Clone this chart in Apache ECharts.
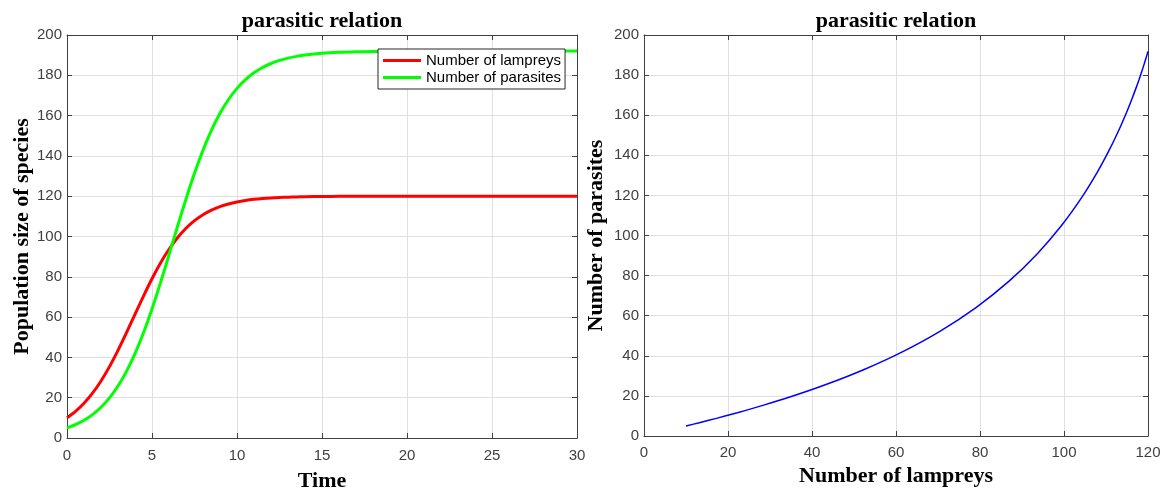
<!DOCTYPE html>
<html>
<head>
<meta charset="utf-8">
<title>parasitic relation</title>
<script src="https://cdn.jsdelivr.net/npm/echarts@6/dist/echarts.min.js"></script>
<style>
  html, body { margin: 0; padding: 0; background: #ffffff; }
  #chart { width: 1163px; height: 488px; }
</style>
</head>
<body>
<div id="chart"></div>
<script>
// Simulated time points
const time = [
  0, 0.5, 1, 1.5, 2, 2.5, 3, 3.5, 4, 4.5, 5, 5.5, 6, 6.5, 7, 7.5, 8, 8.5, 9, 9.5,
  10, 10.5, 11, 11.5, 12, 12.5, 13, 13.5, 14, 15, 16, 17, 18, 19, 20, 22, 25, 30
];

// Number of lampreys at each time point
const lampreys = [
  10.0, 13.18, 17.22, 22.23, 28.30, 35.43, 43.49, 52.27, 61.39, 70.45, 79.05, 86.85, 93.66, 99.41,
  104.11, 107.87, 110.82, 113.10, 114.84, 116.15, 117.14, 117.88, 118.43, 118.84, 119.14, 119.37,
  119.53, 119.66, 119.75, 119.86, 119.93, 119.96, 119.98, 119.99, 119.99, 120, 120, 120
];

// Number of parasites at each time point
const parasites = [
  5.00, 6.64, 8.80, 11.62, 15.26, 19.91, 25.78, 33.05, 41.85, 52.22, 64.06, 77.11, 90.95, 104.97,
  118.62, 131.37, 142.83, 152.77, 161.13, 167.99, 173.50, 177.85, 181.24, 183.86, 185.86, 187.38,
  188.53, 189.40, 190.06, 190.91, 191.39, 191.66, 191.81, 191.89, 191.94, 191.98, 192, 192
];

const chartTitle = 'parasitic relation';
const seriesNames = ['Number of lampreys', 'Number of parasites'];

const AX = '#404040';
const GRID = '#e0e0e0';
const TICK_FONT = { fontFamily: 'Liberation Sans, Arial, sans-serif', fontSize: 15, color: '#404040' };
const NAME_FONT = { fontFamily: 'Liberation Serif, Times New Roman, serif', fontSize: 22, fontWeight: 'bold', color: '#000' };
const TITLE_FONT = { fontFamily: 'Liberation Serif, Times New Roman, serif', fontSize: 22, fontWeight: 'bold', color: '#000' };

function mainAxis(gridIndex, opts, labelMargin) {
  return Object.assign({
    gridIndex,
    type: 'value',
    nameLocation: 'middle',
    nameTextStyle: NAME_FONT,
    axisLine: { show: true, onZero: false, lineStyle: { color: AX, width: 1 } },
    axisTick: { show: true, inside: true, length: 5, lineStyle: { color: AX } },
    axisLabel: Object.assign({ margin: labelMargin }, TICK_FONT),
    splitLine: { show: true, lineStyle: { color: GRID, width: 1 } }
  }, opts);
}
function mirrorAxis(gridIndex, opts) {
  return Object.assign({
    gridIndex,
    type: 'value',
    axisLine: { show: true, onZero: false, lineStyle: { color: AX, width: 1 } },
    axisTick: { show: true, inside: true, length: 5, lineStyle: { color: AX } },
    axisLabel: { show: false },
    splitLine: { show: false }
  }, opts);
}

const chart = echarts.init(document.getElementById('chart'), null, { renderer: 'canvas' });

chart.setOption({
  backgroundColor: '#ffffff',
  animation: false,
  title: [
    { text: chartTitle, left: 322, top: 10, textAlign: 'center', padding: 0, textStyle: TITLE_FONT },
    { text: chartTitle, left: 896, top: 10, textAlign: 'center', padding: 0, textStyle: TITLE_FONT }
  ],
  legend: {
    data: seriesNames,
    orient: 'vertical',
    left: 378, top: 49,
    padding: [4, 4, 4, 5],
    itemGap: 2,
    itemWidth: 38, itemHeight: 3,
    icon: 'rect',
    backgroundColor: '#ffffff',
    borderColor: '#262626', borderWidth: 1, borderRadius: 0,
    textStyle: { fontFamily: 'Liberation Sans, Arial, sans-serif', fontSize: 15, color: '#000', lineHeight: 15 }
  },
  grid: [
    { left: 67, top: 35, width: 510, height: 403, containLabel: false, outerBoundsMode: 'none' },
    { left: 644, top: 35, width: 504, height: 401, containLabel: false, outerBoundsMode: 'none' }
  ],
  xAxis: [
    mainAxis(0, { min: 0, max: 30, interval: 5, position: 'bottom', name: 'Time', nameGap: 32 }, 10),
    mirrorAxis(0, { min: 0, max: 30, interval: 5, position: 'top' }),
    mainAxis(1, { min: 0, max: 120, interval: 20, position: 'bottom', name: 'Number of lampreys', nameGap: 29 }, 9),
    mirrorAxis(1, { min: 0, max: 120, interval: 20, position: 'top' })
  ],
  yAxis: [
    mainAxis(0, { min: 0, max: 200, interval: 20, position: 'left', name: 'Population size of species', nameGap: 31 }, 5),
    mirrorAxis(0, { min: 0, max: 200, interval: 20, position: 'right' }),
    mainAxis(1, { min: 0, max: 200, interval: 20, position: 'left', name: 'Number of parasites', nameGap: 37 }, 5),
    mirrorAxis(1, { min: 0, max: 200, interval: 20, position: 'right' })
  ],
  series: [
    {
      name: seriesNames[0], type: 'line', xAxisIndex: 0, yAxisIndex: 0,
      data: time.map((t, i) => [t, lampreys[i]]),
      showSymbol: false, smooth: 0.3,
      lineStyle: { color: '#ff0000', width: 3 }, itemStyle: { color: '#ff0000' }
    },
    {
      name: seriesNames[1], type: 'line', xAxisIndex: 0, yAxisIndex: 0,
      data: time.map((t, i) => [t, parasites[i]]),
      showSymbol: false, smooth: 0.3,
      lineStyle: { color: '#00ff00', width: 3 }, itemStyle: { color: '#00ff00' }
    },
    {
      name: 'phase', type: 'line', xAxisIndex: 2, yAxisIndex: 2,
      data: lampreys.map((v, i) => [v, parasites[i]]),
      showSymbol: false, smooth: 0.3,
      lineStyle: { color: '#0000ff', width: 1.5 }, itemStyle: { color: '#0000ff' }
    }
  ]
});
</script>
</body>
</html>
